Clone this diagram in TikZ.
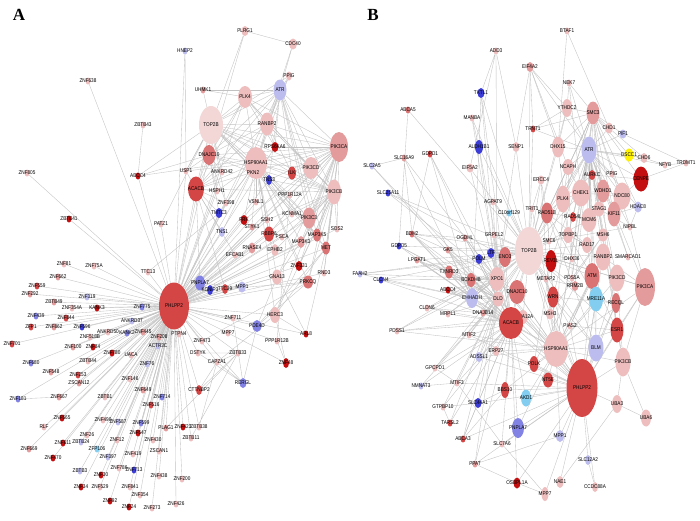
\documentclass[tikz,border=0pt]{standalone}
\usepackage{fontspec}
\newfontfamily\gfont[FakeStretch=0.85]{Liberation Sans}
\newfontfamily\pfont{Liberation Serif}
\usetikzlibrary{shapes.geometric,backgrounds}

\definecolor{pka}{RGB}{243,214,214}
\definecolor{pkb}{RGB}{238,190,190}
\definecolor{pkc}{RGB}{228,155,155}
\definecolor{pkd}{RGB}{218,115,115}
\definecolor{rda}{RGB}{212,70,70}
\definecolor{rdb}{RGB}{195,15,15}
\definecolor{lva}{RGB}{188,188,238}
\definecolor{blb}{RGB}{130,130,228}
\definecolor{blc}{RGB}{60,60,215}
\definecolor{cya}{RGB}{130,205,240}
\definecolor{yel}{RGB}{255,242,0}

\tikzset{wh/.style 2 args={minimum width=#1pt, minimum height=#2pt}}

\begin{document}
\begin{tikzpicture}[x=1pt, y=-1pt]
    \tikzstyle{every node}=[ellipse, inner sep=0pt, draw=none]
    \tikzstyle{every label}=[font=\gfont\fontsize{5.5}{6}\selectfont, text=black]
    \tikzstyle{gene}=[minimum width=5pt, minimum height=7pt]
    \tikzstyle{panel}=[font=\pfont\bfseries\fontsize{17}{17}\selectfont]
    \tikzstyle{edge}=[black!24, line width=0.35pt]

    \useasboundingbox (0,0) rectangle (700,520);

    % panel A
    \node[panel] (pA) at (19,15) {A};
    \node[gene, fill=pkb, label=center:ZNF638] (aZNF638) at (88,81) {};
    \node[gene, fill=pkb, label=center:ZBTB43] (aZBTB43) at (143,125) {};
    \node[gene, fill=pkb, label=center:ZNF805] (aZNF805) at (27,173) {};
    \node[gene, fill=lva, label=center:HNEP2] (aHNEP2) at (185,51) {};
    \node[wh={7}{10}, fill=pkb, label=center:PLRG1] (aPLRG1) at (245,31) {};
    \node[wh={8}{11}, fill=pkb, label=center:CDC40] (aCDC40) at (293,44) {};
    \node[wh={6}{9}, fill=pkb, label=center:PPIG] (aPPIG) at (289,76) {};
    \node[wh={13}{21}, fill=lva, label=center:ATR] (aATR) at (280,90) {};
    \node[gene, fill=pkc, label=center:UHMK1] (aUHMK1) at (203,90) {};
    \node[wh={14}{22}, fill=pkb, label=center:PLK4] (aPLK4) at (245,97) {};
    \node[wh={24}{38}, fill=pka, label=center:TOP2B] (aTOP2B) at (211,125) {};
    \node[wh={14}{23}, fill=pkb, label=center:RANBP2] (aRANBP2) at (267,124) {};
    \node[wh={7}{10}, fill=rdb, label=center:RPS6KA6] (aRPS6KA6) at (275,147) {};
    \node[wh={18}{30}, fill=pkc, label=center:PIK3CA] (aPIK3CA) at (339,147) {};
    \node[wh={13}{20}, fill=pkd, label=center:DNAJC10] (aDNAJC10) at (209,155) {};
    \node[wh={22}{32}, fill=pkb, label=center:HSP90AA1] (aHSP90AA1) at (256,163) {};
    \node[gene, fill=pkb, label=center:PKN2] (aPKN2) at (253,173) {};
    \node[wh={15}{22}, fill=pkb, label=center:PIK3CD] (aPIK3CD) at (311,168) {};
    \node[gene, fill=pkb, label=center:USP1] (aUSP1) at (186,171) {};
    \node[gene, fill=pkb, label=center:ANKRD42] (aANKRD42) at (222,172) {};
    \node[wh={8}{13}, fill=rda, label=center:ILK] (aILK) at (292,173) {};
    \node[gene, fill=rdb, label=center:ABCC4] (aABCC4) at (138,176) {};
    \node[wh={16}{25}, fill=rda, label=center:ACACB] (aACACB) at (196,189) {};
    \node[gene, fill=pkb, label=center:HSPH1] (aHSPH1) at (217,191) {};
    \node[wh={6}{10}, fill=blc, label=center:TNS3] (aTNS3) at (269,180) {};
    \node[wh={14}{25}, fill=pkb, label=center:PIK3CB] (aPIK3CB) at (334,192) {};
    \node[gene, fill=pkb, label=center:PPP1R12A] (aPPP1R12A) at (290,195) {};
    \node[gene, fill=pkb, label=center:ZNF398] (aZNF398) at (226,203) {};
    \node[gene, fill=pkb, label=center:VSNL1] (aVSNL1) at (256,202) {};
    \node[wh={7}{10}, fill=blc, label=center:TMTC3] (aTMTC3) at (219,213) {};
    \node[gene, fill=pkb, label=center:KCNMA1] (aKCNMA1) at (292,214) {};
    \node[wh={13}{21}, fill=pkc, label=center:PIK3C3] (aPIK3C3) at (309,218) {};
    \node[wh={7}{10}, fill=rdb, label=center:FRK] (aFRK) at (244,220) {};
    \node[gene, fill=pkc, label=center:STYK1] (aSTYK1) at (252,227) {};
    \node[gene, fill=pkb, label=center:SSH2] (aSSH2) at (267,220) {};
    \node[wh={6}{10}, fill=lva, label=center:TNS1] (aTNS1) at (222,232) {};
    \node[wh={10}{15}, fill=rda, label=center:RBBP6] (aRBBP6) at (269,234) {};
    \node[gene, fill=pkb, label=center:PSCA] (aPSCA) at (282,237) {};
    \node[wh={7}{12}, fill=pkc, label=center:MAP3K3] (aMAP3K3) at (301,242) {};
    \node[wh={8}{13}, fill=pkd, label=center:MAP3K5] (aMAP3K5) at (317,235) {};
    \node[gene, fill=pkb, label=center:SOS2] (aSOS2) at (337,229) {};
    \node[wh={8}{13}, fill=pkd, label=center:MET] (aMET) at (326,248) {};
    \node[wh={7}{12}, fill=pkb, label=center:EPHB2] (aEPHB2) at (275,250) {};
    \node[wh={7}{11}, fill=pkc, label=center:RNASE4] (aRNASE4) at (252,248) {};
    \node[gene, fill=pkb, label=center:EFCAB1] (aEFCAB1) at (235,255) {};
    \node[wh={7}{10}, fill=rdb, label=center:ZNF331] (aZNF331) at (299,266) {};
    \node[gene, fill=pkb, label=center:RND3] (aRND3) at (324,273) {};
    \node[wh={10}{15}, fill=pkb, label=center:GNA13] (aGNA13) at (277,277) {};
    \node[wh={10}{13}, fill=pkd, label=center:PRKCQ] (aPRKCQ) at (308,282) {};
    \node[wh={10}{15}, fill=blb, label=center:PNPLA7] (aPNPLA7) at (200,283) {};
    \node[wh={6}{10}, fill=blc, label=center:KCNIP3] (aKCNIP3) at (210,290) {};
    \node[wh={6}{10}, fill=rda, label=center:TTC39] (aTTC39) at (225,289) {};
    \node[wh={8}{11}, fill=lva, label=center:MPP1] (aMPP1) at (242,287) {};
    \node[wh={30}{47}, fill=rda, label=center:PHLPP2] (aPHLPP2) at (174,306) {};
    \node[wh={10}{16}, fill=pkb, label=center:HERC3] (aHERC3) at (275,315) {};
    \node[gene, fill=pkb, label=center:ZNF711] (aZNF711) at (233,318) {};
    \node[wh={9}{12}, fill=blb, label=center:PDE4D] (aPDE4D) at (257,326) {};
    \node[gene, fill=rdb, label=center:ARL8] (aARL8) at (306,334) {};
    \node[gene, fill=pkb, label=center:MPP7] (aMPP7) at (228,333) {};
    \node[gene, fill=pkb, label=center:PPP1R12B] (aPPP1R12B) at (277,341) {};
    \node[gene, fill=pkb, label=center:ZNF473] (aZNF473) at (202,341) {};
    \node[gene, fill=pkb, label=center:PTPN4] (aPTPN4) at (179,334) {};
    \node[gene, fill=pkb, label=center:DSTYK] (aDSTYK) at (198,353) {};
    \node[gene, fill=pkb, label=center:ZBTB33] (aZBTB33) at (238,353) {};
    \node[gene, fill=pkb, label=center:CAPZA1] (aCAPZA1) at (217,362) {};
    \node[wh={6}{10}, fill=rdb, label=center:ZNF48] (aZNF48) at (286,363) {};
    \node[wh={7}{10}, fill=blb, label=center:RERGL] (aRERGL) at (243,383) {};
    \node[wh={6}{10}, fill=rda, label=center:CTTNBP2] (aCTTNBP2) at (199,390) {};
    \node[gene, fill=pkc, label=center:PLAG1] (aPLAG1) at (166,428) {};
    \node[gene, fill=rdb, label=center:ZNF423] (aZNF423) at (183,427) {};
    \node[gene, fill=pkb, label=center:ZBTB38] (aZBTB38) at (199,427) {};
    \node[gene, fill=pkb, label=center:ZBTB11] (aZBTB11) at (191,438) {};
    \node[gene, fill=pkb, label=center:ZNF200] (aZNF200) at (182,479) {};
    \node[gene, fill=pkb, label=center:ZNF426] (aZNF426) at (176,504) {};
    \node[gene, fill=rdb, label=center:ZBTB41] (aZBTB41) at (69,219) {};
    \node[gene, fill=pkb, label=center:PATZ1] (aPATZ1) at (161,224) {};
    \node[gene, fill=pkb, label=center:ZNF81] (aZNF81) at (64,264) {};
    \node[gene, fill=pkb, label=center:ZNF75A] (aZNF75A) at (94,266) {};
    \node[gene, fill=pkb, label=center:TTC13] (aTTC13) at (148,272) {};
    \node[gene, fill=pkc, label=center:ZNF662] (aZNF662) at (58,277) {};
    \node[gene, fill=rda, label=center:ZNF559] (aZNF559) at (37,286) {};
    \node[gene, fill=pkc, label=center:ZNF292] (aZNF292) at (30,294) {};
    \node[gene, fill=lva, label=center:ZNF319] (aZNF319) at (87,297) {};
    \node[gene, fill=pkc, label=center:ZBTB49] (aZBTB49) at (54,302) {};
    \node[gene, fill=pkb, label=center:ZNF354A] (aZNF354A) at (72,308) {};
    \node[gene, fill=rdb, label=center:KANK3] (aKANK3) at (97,308) {};
    \node[gene, fill=blb, label=center:ZNF775] (aZNF775) at (142,307) {};
    \node[gene, fill=blb, label=center:ZNF439] (aZNF439) at (36,316) {};
    \node[gene, fill=rda, label=center:ZNF844] (aZNF844) at (66,318) {};
    \node[gene, fill=rda, label=center:ZFP1] (aZFP1) at (31,327) {};
    \node[gene, fill=pkc, label=center:ZNF862] (aZNF862) at (54,327) {};
    \node[gene, fill=blc, label=center:ZNF596] (aZNF596) at (82,327) {};
    \node[gene, fill=lva, label=center:ANKRD37] (aANKRD37) at (132,321) {};
    \node[gene, fill=pkb, label=center:ANKRD50] (aANKRD50) at (108,332) {};
    \node[gene, fill=blb, label=center:KANK2] (aKANK2) at (127,333) {};
    \node[gene, fill=pkc, label=center:ZNF445] (aZNF445) at (143,332) {};
    \node[gene, fill=pkb, label=center:ZNF518B] (aZNF518B) at (90,337) {};
    \node[gene, fill=pkc, label=center:ZNF208] (aZNF208) at (159,337) {};
    \node[gene, fill=rda, label=center:ZNF701] (aZNF701) at (12,344) {};
    \node[gene, fill=pkc, label=center:ZNF100] (aZNF100) at (73,347) {};
    \node[gene, fill=rdb, label=center:ZNF84] (aZNF84) at (93,347) {};
    \node[gene, fill=rdb, label=center:ZNF780] (aZNF780) at (112,353) {};
    \node[gene, fill=pkb, label=center:UACA] (aUACA) at (131,355) {};
    \node[gene, fill=lva, label=center:ACTR3C] (aACTR3C) at (158,346) {};
    \node[gene, fill=blb, label=center:ZNF680] (aZNF680) at (31,363) {};
    \node[gene, fill=pkb, label=center:ZBTB44] (aZBTB44) at (88,361) {};
    \node[gene, fill=lva, label=center:ZNF76] (aZNF76) at (147,364) {};
    \node[gene, fill=pkc, label=center:ZNF548] (aZNF548) at (51,372) {};
    \node[gene, fill=rda, label=center:ZNF253] (aZNF253) at (78,375) {};
    \node[gene, fill=pkc, label=center:ZSCAN12] (aZSCAN12) at (79,383) {};
    \node[gene, fill=pkb, label=center:ZNF146] (aZNF146) at (130,379) {};
    \node[gene, fill=pkc, label=center:ZNF649] (aZNF649) at (143,390) {};
    \node[gene, fill=blb, label=center:ZNF181] (aZNF181) at (18,399) {};
    \node[gene, fill=pkc, label=center:ZNF667] (aZNF667) at (59,397) {};
    \node[gene, fill=pkb, label=center:ZBTB1] (aZBTB1) at (105,397) {};
    \node[gene, fill=blb, label=center:ZNF714] (aZNF714) at (162,397) {};
    \node[gene, fill=rda, label=center:ZNF516] (aZNF516) at (151,405) {};
    \node[gene, fill=rdb, label=center:ZNF565] (aZNF565) at (62,418) {};
    \node[gene, fill=pkb, label=center:RLF] (aRLF) at (44,427) {};
    \node[gene, fill=pkb, label=center:ZNF490] (aZNF490) at (103,420) {};
    \node[gene, fill=lva, label=center:ZNF587] (aZNF587) at (118,422) {};
    \node[gene, fill=blb, label=center:ZNF599] (aZNF599) at (141,423) {};
    \node[gene, fill=pkb, label=center:ZNF26] (aZNF26) at (87,435) {};
    \node[gene, fill=rdb, label=center:ZNF611] (aZNF611) at (63,443) {};
    \node[gene, fill=lva, label=center:ZBTB24] (aZBTB24) at (81,442) {};
    \node[gene, fill=rdb, label=center:ZNF547] (aZNF547) at (138,433) {};
    \node[gene, fill=pkb, label=center:ZNF430] (aZNF430) at (153,440) {};
    \node[gene, fill=pkc, label=center:ZNF669] (aZNF669) at (29,449) {};
    \node[gene, fill=cya, label=center:ZFP106] (aZFP106) at (97,449) {};
    \node[gene, fill=pkb, label=center:ZNF12] (aZNF12) at (117,440) {};
    \node[gene, fill=pkb, label=center:ZNF419] (aZNF419) at (133,454) {};
    \node[gene, fill=pkb, label=center:ZSCAN1] (aZSCAN1) at (159,451) {};
    \node[gene, fill=lva, label=center:ZNF397] (aZNF397) at (108,457) {};
    \node[gene, fill=rdb, label=center:ZNF470] (aZNF470) at (53,458) {};
    \node[gene, fill=pkb, label=center:ZNF786] (aZNF786) at (119,468) {};
    \node[gene, fill=blc, label=center:ZNF713] (aZNF713) at (134,470) {};
    \node[gene, fill=lva, label=center:ZBTB3] (aZBTB3) at (80,471) {};
    \node[gene, fill=pkb, label=center:ZNF438] (aZNF438) at (159,476) {};
    \node[gene, fill=rdb, label=center:ZNF30] (aZNF30) at (101,475) {};
    \node[gene, fill=rdb, label=center:ZNF34] (aZNF34) at (81,487) {};
    \node[gene, fill=pkb, label=center:ZNF529] (aZNF529) at (100,487) {};
    \node[gene, fill=pkb, label=center:ZNF841] (aZNF841) at (130,487) {};
    \node[gene, fill=pkb, label=center:ZNF354] (aZNF354) at (140,495) {};
    \node[gene, fill=rdb, label=center:ZNF92] (aZNF92) at (110,501) {};
    \node[gene, fill=rdb, label=center:ZNF24] (aZNF24) at (129,507) {};
    \node[gene, fill=pkb, label=center:ZNF273] (aZNF273) at (152,508) {};

    % panel B
    \node[panel] (pB) at (373,15) {B};
    \node[gene, fill=pkb, label=center:ADD3] (bADD3) at (496,51) {};
    \node[wh={7}{10}, fill=blc, label=center:TKTL1] (bTKTL1) at (481,93) {};
    \node[gene, fill=pkd, label=center:ABCA5] (bABCA5) at (408,110) {};
    \node[gene, fill=pkb, label=center:MANBA] (bMANBA) at (472,118) {};
    \node[wh={8}{14}, fill=blc, label=center:ALDH1B1] (bALDH1B1) at (479,147) {};
    \node[wh={7}{10}, fill=pkb, label=center:SENP1] (bSENP1) at (516,147) {};
    \node[gene, fill=rda, label=center:GDPD1] (bGDPD1) at (430,154) {};
    \node[gene, fill=pkc, label=center:SLC16A9] (bSLC16A9) at (404,158) {};
    \node[wh={7}{9}, fill=pkb, label=center:EIF5A2] (bEIF5A2) at (470,168) {};
    \node[gene, fill=lva, label=center:SLC2A5] (bSLC2A5) at (372,166) {};
    \node[gene, fill=pkb, label=center:BTAF1] (bBTAF1) at (567,31) {};
    \node[wh={7}{10}, fill=pkc, label=center:EIF4A2] (bEIF4A2) at (530,67) {};
    \node[gene, fill=pkb, label=center:NEK7] (bNEK7) at (569,83) {};
    \node[wh={10}{18}, fill=pkb, label=center:YTHDC2] (bYTHDC2) at (567,108) {};
    \node[wh={13}{23}, fill=pkc, label=center:SMC3] (bSMC3) at (593,113) {};
    \node[gene, fill=rda, label=center:TRNT1] (bTRNT1) at (533,129) {};
    \node[wh={8}{11}, fill=pkb, label=center:CHD1] (bCHD1) at (609,128) {};
    \node[wh={7}{9}, fill=lva, label=center:PIF1] (bPIF1) at (623,134) {};
    \node[wh={12}{21}, fill=pkb, label=center:DHX15] (bDHX15) at (558,147) {};
    \node[wh={15}{27}, fill=lva, label=center:ATR] (bATR) at (589,150) {};
    \node[wh={9}{13}, fill=yel, label=center:DSCC1] (bDSCC1) at (629,155) {};
    \node[wh={7}{10}, fill=pkb, label=center:CHD6] (bCHD6) at (644,158) {};
    \node[gene, fill=pkb, label=center:NFYB] (bNFYB) at (665,165) {};
    \node[gene, fill=pkb, label=center:TRDMT1] (bTRDMT1) at (686,163) {};
    \node[wh={11}{16}, fill=pkb, label=center:NCAPH] (bNCAPH) at (568,167) {};
    \node[wh={7}{10}, fill=rda, label=center:AURKC] (bAURKC) at (592,175) {};
    \node[gene, fill=pkb, label=center:PPIG] (bPPIG) at (612,174) {};
    \node[wh={15}{25}, fill=rdb, label=center:CENPE] (bCENPE) at (641,179) {};
    \node[wh={7}{9}, fill=pkb, label=center:ERCC4] (bERCC4) at (541,180) {};
    \node[wh={18}{27}, fill=pkb, label=center:CHEK1] (bCHEK1) at (581,193) {};
    \node[wh={13}{23}, fill=pkc, label=center:WDHD1] (bWDHD1) at (603,191) {};
    \node[wh={17}{27}, fill=pkb, label=center:NDC80] (bNDC80) at (622,196) {};
    \node[wh={8}{11}, fill=lva, label=center:HDAC8] (bHDAC8) at (638,207) {};
    \node[wh={14}{27}, fill=pkb, label=center:PLK4] (bPLK4) at (563,199) {};
    \node[gene, fill=pkb, label=center:TRIT1] (bTRIT1) at (532,209) {};
    \node[wh={12}{21}, fill=pkd, label=center:RAD51B] (bRAD51B) at (547,213) {};
    \node[wh={6}{10}, fill=rda, label=center:RAD54L] (bRAD54L) at (573,217) {};
    \node[wh={15}{24}, fill=pkb, label=center:MCM6] (bMCM6) at (589,220) {};
    \node[wh={11}{15}, fill=pkb, label=center:STAG1] (bSTAG1) at (599,209) {};
    \node[wh={13}{25}, fill=pkc, label=center:KIF11] (bKIF11) at (614,214) {};
    \node[gene, fill=pkb, label=center:NIPBL] (bNIPBL) at (630,227) {};
    \node[wh={10}{13}, fill=pkb, label=center:MSH6] (bMSH6) at (603,235) {};
    \node[wh={10}{16}, fill=pkb, label=center:TOPBP1] (bTOPBP1) at (568,235) {};
    \node[wh={10}{16}, fill=pkb, label=center:RAD17] (bRAD17) at (587,245) {};
    \node[wh={28}{48}, fill=pka, label=center:TOP2B] (bTOP2B) at (529,251) {};
    \node[gene, fill=pkb, label=center:SMC6] (bSMC6) at (549,241) {};
    \node[wh={11}{22}, fill=rdb, label=center:REV3L] (bREV3L) at (551,261) {};
    \node[gene, fill=pkb, label=center:DHX36] (bDHX36) at (572,259) {};
    \node[wh={15}{27}, fill=pkb, label=center:RANBP2] (bRANBP2) at (603,257) {};
    \node[gene, fill=pkb, label=center:SMARCAD1] (bSMARCAD1) at (628,257) {};
    \node[wh={15}{26}, fill=pkd, label=center:ATM] (bATM) at (592,276) {};
    \node[wh={15}{27}, fill=pkb, label=center:PIK3CD] (bPIK3CD) at (617,278) {};
    \node[wh={20}{38}, fill=pkc, label=center:PIK3CA] (bPIK3CA) at (645,287) {};
    \node[gene, fill=pkb, label=center:METAP2] (bMETAP2) at (546,279) {};
    \node[gene, fill=pkb, label=center:PDS5A] (bPDS5A) at (572,278) {};
    \node[wh={7}{10}, fill=pkc, label=center:RRM2B] (bRRM2B) at (575,286) {};
    \node[wh={14}{25}, fill=cya, label=center:MRE11A] (bMRE11A) at (596,299) {};
    \node[wh={9}{20}, fill=pkd, label=center:RECQL] (bRECQL) at (616,303) {};
    \node[wh={11}{21}, fill=rda, label=center:WRN] (bWRN) at (553,297) {};
    \node[wh={8}{11}, fill=pkb, label=center:MSH3] (bMSH3) at (550,314) {};
    \node[gene, fill=pkb, label=center:PIAS2] (bPIAS2) at (570,326) {};
    \node[wh={13}{25}, fill=rda, label=center:ESR1] (bESR1) at (617,330) {};
    \node[wh={16}{24}, fill=pkd, label=center:DNAJC10] (bDNAJC10) at (517,292) {};
    \node[wh={10}{14}, fill=pkb, label=center:HSPA12A] (bHSPA12A) at (523,317) {};
    \node[wh={15}{27}, fill=lva, label=center:BLM] (bBLM) at (596,348) {};
    \node[wh={24}{36}, fill=pkb, label=center:HSP90AA1] (bHSP90AA1) at (556,349) {};
    \node[wh={15}{29}, fill=pkb, label=center:PIK3CB] (bPIK3CB) at (623,362) {};
    \node[wh={9}{16}, fill=rda, label=center:POLK] (bPOLK) at (534,364) {};
    \node[wh={10}{15}, fill=rda, label=center:NT5E] (bNT5E) at (548,380) {};
    \node[wh={31}{58}, fill=rda, label=center:PHLPP2] (bPHLPP2) at (582,388) {};
    \node[wh={10}{17}, fill=cya, label=center:AKD1] (bAKD1) at (526,398) {};
    \node[wh={10}{18}, fill=pkb, label=center:UBA3] (bUBA3) at (617,404) {};
    \node[wh={10}{17}, fill=pkb, label=center:UBA6] (bUBA6) at (646,418) {};
    \node[wh={12}{20}, fill=blb, label=center:PNPLA7] (bPNPLA7) at (518,428) {};
    \node[wh={8}{12}, fill=lva, label=center:MPP1] (bMPP1) at (560,436) {};
    \node[wh={6}{10}, fill=lva, label=center:SLC12A2] (bSLC12A2) at (588,460) {};
    \node[wh={7}{12}, fill=pkb, label=center:NAE1] (bNAE1) at (560,482) {};
    \node[wh={6}{10}, fill=pkb, label=center:CCDC88A] (bCCDC88A) at (595,487) {};
    \node[wh={7}{14}, fill=pkb, label=center:MPP7] (bMPP7) at (545,494) {};
    \node[wh={7}{11}, fill=rdb, label=center:OSBPL1A] (bOSBPL1A) at (517,483) {};
    \node[wh={7}{10}, fill=pkb, label=center:ERP27] (bERP27) at (496,351) {};
    \node[wh={7}{10}, fill=lva, label=center:ADSSL1] (bADSSL1) at (479,357) {};
    \node[gene, fill=pkb, label=center:GPCPD1] (bGPCPD1) at (435,368) {};
    \node[gene, fill=lva, label=center:NMNAT3] (bNMNAT3) at (421,386) {};
    \node[gene, fill=pkb, label=center:MTIF3] (bMTIF3) at (457,383) {};
    \node[wh={8}{16}, fill=rda, label=center:BBS10] (bBBS10) at (505,390) {};
    \node[gene, fill=pkb, label=center:GTPBP10] (bGTPBP10) at (443,407) {};
    \node[wh={7}{10}, fill=blc, label=center:SLC44A1] (bSLC44A1) at (478,403) {};
    \node[gene, fill=rda, label=center:TARSL2] (bTARSL2) at (450,423) {};
    \node[gene, fill=rda, label=center:ABCA3] (bABCA3) at (463,439) {};
    \node[gene, fill=pkb, label=center:SLC7A6] (bSLC7A6) at (502,444) {};
    \node[gene, fill=pkc, label=center:PPAT] (bPPAT) at (475,464) {};
    \node[gene, fill=blc, label=center:SLC25A11] (bSLC25A11) at (388,193) {};
    \node[gene, fill=pkb, label=center:AGPAT9] (bAGPAT9) at (493,202) {};
    \node[gene, fill=cya, label=center:C10orf129] (bC10orf129) at (509,213) {};
    \node[gene, fill=pkd, label=center:BDH2] (bBDH2) at (412,234) {};
    \node[gene, fill=pkc, label=center:OGDHL] (bOGDHL) at (465,238) {};
    \node[gene, fill=pkb, label=center:GRPEL2] (bGRPEL2) at (494,235) {};
    \node[gene, fill=blc, label=center:GDPD5] (bGDPD5) at (399,246) {};
    \node[gene, fill=pkc, label=center:GK5] (bGK5) at (448,250) {};
    \node[wh={7}{10}, fill=blc, label=center:POLM] (bPOLM) at (479,259) {};
    \node[wh={7}{10}, fill=blc, label=center:LTF] (bLTF) at (491,253) {};
    \node[wh={12}{20}, fill=pkd, label=center:ENO3] (bENO3) at (505,257) {};
    \node[gene, fill=pkc, label=center:LPGAT1] (bLPGAT1) at (417,260) {};
    \node[gene, fill=lva, label=center:FAAH2] (bFAAH2) at (360,274) {};
    \node[gene, fill=blc, label=center:CLCN4] (bCLCN4) at (381,280) {};
    \node[wh={8}{13}, fill=pkd, label=center:TXNRD3] (bTXNRD3) at (449,272) {};
    \node[wh={9}{14}, fill=pkd, label=center:BCKDHB] (bBCKDHB) at (471,280) {};
    \node[wh={15}{24}, fill=pkb, label=center:XPO1] (bXPO1) at (497,279) {};
    \node[gene, fill=rdb, label=center:ABCC4] (bABCC4) at (448,290) {};
    \node[wh={12}{20}, fill=lva, label=center:EHHADH] (bEHHADH) at (472,298) {};
    \node[wh={11}{15}, fill=pkb, label=center:DLD] (bDLD) at (498,299) {};
    \node[gene, fill=pkb, label=center:CLDN6] (bCLDN6) at (427,308) {};
    \node[gene, fill=pkb, label=center:MRPL1] (bMRPL1) at (448,314) {};
    \node[gene, fill=pkc, label=center:DNAJB14] (bDNAJB14) at (483,313) {};
    \node[wh={24}{32}, fill=rda, label=center:ACACB] (bACACB) at (511,323) {};
    \node[gene, fill=pkb, label=center:PDSS1] (bPDSS1) at (397,331) {};
    \node[gene, fill=pkb, label=center:MTIF2] (bMTIF2) at (469,335) {};

    \begin{pgfonlayer}{background}
    \fill[white] (0,0) rectangle (700,520);

    % edges of panel A
    \draw[edge] (aPHLPP2) edge (aZNF638) edge (aZNF805) edge (aZBTB41) edge (aPATZ1)
        edge (aZNF81) edge (aZNF75A) edge (aTTC13) edge (aZNF662) edge (aZNF559)
        edge (aZNF292) edge (aZNF319) edge (aZBTB49) edge (aZNF354A) edge (aKANK3)
        edge (aZNF775) edge (aZNF439) edge (aZNF844) edge (aZFP1) edge (aZNF862)
        edge (aZNF596) edge (aANKRD37) edge (aANKRD50) edge (aKANK2) edge (aZNF445)
        edge (aZNF518B) edge (aZNF208) edge (aZNF701) edge (aZNF100) edge (aZNF84)
        edge (aZNF780) edge (aUACA) edge (aACTR3C) edge (aZNF680) edge (aZBTB44)
        edge (aZNF76) edge (aZNF548) edge (aZNF253) edge (aZSCAN12) edge (aZNF146)
        edge (aZNF649) edge (aZNF181) edge (aZNF667) edge (aZBTB1) edge (aZNF714)
        edge (aZNF516) edge (aZNF565) edge (aRLF) edge (aZNF490) edge (aZNF587)
        edge (aZNF599) edge (aZNF26) edge (aZBTB24) edge (aZNF611) edge (aZNF547)
        edge (aZNF430) edge (aZNF669) edge (aZFP106) edge (aZNF12) edge (aZNF419)
        edge (aZSCAN1) edge (aZNF397) edge (aZNF470) edge (aZNF786) edge (aZNF713)
        edge (aZBTB3) edge (aZNF438) edge (aZNF30) edge (aZNF34) edge (aZNF529)
        edge (aZNF841) edge (aZNF354) edge (aZNF92) edge (aZNF24) edge (aZNF273)
        edge (aPLAG1) edge (aZNF423) edge (aZBTB38) edge (aZBTB11) edge (aZNF200)
        edge (aZNF426) edge (aPTPN4) edge (aZNF473) edge (aDSTYK) edge (aZBTB33)
        edge (aCAPZA1) edge (aCTTNBP2) edge (aMPP7) edge (aZNF711) edge (aPDE4D)
        edge (aHERC3) edge (aPPP1R12B) edge (aRERGL) edge (aARL8) edge (aHNEP2)
        edge (aABCC4) edge (aUSP1) edge (aACACB) edge (aTOP2B) edge (aDNAJC10)
        edge (aHSPH1) edge (aZNF398) edge (aTMTC3) edge (aTNS1) edge (aPNPLA7)
        edge (aKCNIP3) edge (aTTC39) edge (aMPP1) edge (aEFCAB1) edge (aRNASE4)
        edge (aFRK) edge (aSTYK1) edge (aVSNL1) edge (aRBBP6) edge (aEPHB2)
        edge (aGNA13) edge (aPIK3CA) edge (aPIK3CB) edge (aPIK3CD) edge (aPIK3C3)
        edge (aMET) edge (aMAP3K5) edge (aMAP3K3) edge (aPRKCQ) edge (aZNF331)
        edge (aRND3) edge (aSOS2) edge (aHSP90AA1) edge (aILK) edge (aPLK4)
        edge (aATR) edge (aRANBP2) edge (aKCNMA1) edge (aPPP1R12A) edge (aTNS3)
        edge (aSSH2) edge (aPSCA) edge (aANKRD42) edge (aRPS6KA6);
    \draw[edge] (aTOP2B) edge (aATR) edge (aPLK4) edge (aRANBP2) edge (aHSP90AA1)
        edge (aPIK3CA) edge (aDNAJC10) edge (aUHMK1) edge (aPIK3CD) edge (aPIK3CB)
        edge (aPIK3C3) edge (aILK) edge (aRPS6KA6) edge (aUSP1) edge (aACACB)
        edge (aANKRD42) edge (aMET) edge (aMAP3K5) edge (aHSPH1) edge (aZNF398)
        edge (aTNS3) edge (aPPIG) edge (aABCC4) edge (aPLRG1);
    \draw[edge] (aATR) edge (aUHMK1) edge (aPPIG) edge (aCDC40) edge (aPLK4)
        edge (aRANBP2) edge (aPIK3CA) edge (aHSP90AA1) edge (aPIK3CD) edge (aPIK3CB)
        edge (aPIK3C3) edge (aRPS6KA6) edge (aILK) edge (aDNAJC10) edge (aACACB)
        edge (aMET) edge (aMAP3K5) edge (aPKN2) edge (aTNS3);
    \draw[edge] (aPIK3CA) edge (aPIK3CB) edge (aPIK3CD) edge (aPIK3C3) edge (aSOS2)
        edge (aMET) edge (aMAP3K5) edge (aMAP3K3) edge (aRANBP2) edge (aHSP90AA1)
        edge (aILK) edge (aPLK4) edge (aDNAJC10) edge (aRPS6KA6) edge (aPRKCQ)
        edge (aKCNMA1) edge (aPPP1R12A) edge (aRND3) edge (aGNA13) edge (aTNS3)
        edge (aACACB) edge (aHERC3) edge (aZNF331) edge (aFRK) edge (aRBBP6);
    \draw[edge] (aPIK3CB) edge (aPIK3CD) edge (aPIK3C3) edge (aSOS2) edge (aMET)
        edge (aMAP3K5) edge (aMAP3K3) edge (aHSP90AA1) edge (aILK) edge (aRANBP2)
        edge (aPLK4) edge (aPRKCQ) edge (aRND3) edge (aGNA13) edge (aZNF331)
        edge (aEPHB2) edge (aPSCA) edge (aKCNMA1) edge (aTNS3) edge (aDNAJC10)
        edge (aACACB) edge (aSSH2);
    \draw[edge] (aHSP90AA1) edge (aPLK4) edge (aRANBP2) edge (aDNAJC10) edge (aILK)
        edge (aPIK3CD) edge (aPIK3C3) edge (aMET) edge (aMAP3K3) edge (aMAP3K5)
        edge (aPRKCQ) edge (aSSH2) edge (aVSNL1) edge (aSTYK1) edge (aFRK)
        edge (aRBBP6) edge (aEPHB2) edge (aGNA13) edge (aZNF398) edge (aHSPH1)
        edge (aACACB) edge (aTNS1) edge (aTMTC3) edge (aUSP1) edge (aPPIG)
        edge (aPPP1R12A) edge (aKCNMA1) edge (aZNF331) edge (aHERC3);
    \draw[edge] (aPLK4) -- (aRANBP2) -- (aDNAJC10) -- (aPLK4) -- (aACACB) -- (aRANBP2) -- (aILK);
    \draw[edge] (aPLK4) -- (aRPS6KA6) -- (aRANBP2) -- (aPIK3CD) -- (aPLK4) -- (aUHMK1);
    \draw[edge] (aPPIG) -- (aRANBP2) -- (aCDC40) -- (aPLRG1) -- (aDNAJC10) -- (aUSP1);
    \draw[edge] (aDNAJC10) -- (aACACB) -- (aHSPH1) -- (aDNAJC10) -- (aANKRD42) -- (aACACB);
    \draw[edge] (aDNAJC10) -- (aZNF398) -- (aACACB) -- (aTMTC3) -- (aDNAJC10) -- (aPKN2);
    \draw[edge] (aACACB) -- (aTNS1) (aACACB) -- (aPNPLA7) -- (aKCNIP3) -- (aMPP1) -- (aPNPLA7);
    \draw[edge] (aACACB) -- (aEFCAB1) (aACACB) -- (aTTC39) (aACACB) -- (aUSP1) -- (aTOP2B);
    \draw[edge] (aHERC3) -- (aPIK3CB) (aHERC3) -- (aMET) -- (aARL8) -- (aHERC3) -- (aZNF48) -- (aMPP7);
    \draw[edge] (aARL8) -- (aGNA13) -- (aPDE4D) -- (aRERGL) -- (aZNF711) (aPDE4D) -- (aMET);
    \draw[edge] (aPPP1R12B) -- (aPPP1R12A) (aPPP1R12B) -- (aZNF48) (aPDE4D) -- (aPRKCQ);
    \draw[edge] (aCTTNBP2) -- (aZBTB33) -- (aCAPZA1) -- (aCTTNBP2) (aDSTYK) -- (aZBTB33);
    \draw[edge] (aCAPZA1) -- (aHERC3) (aPLAG1) -- (aZBTB33) (aZBTB38) -- (aCAPZA1) (aZBTB11) -- (aZBTB33);
    \draw[edge] (aDSTYK) -- (aRERGL) -- (aCAPZA1) (aZNF473) -- (aPRKCQ);
    \draw[edge] (aZBTB43) -- (aABCC4) -- (aDNAJC10) (aABCC4) -- (aPIK3CA);
    \draw[edge] (aPATZ1) -- (aTOP2B) (aTTC13) -- (aTMTC3) (aHNEP2) -- (aUSP1);
    \draw[edge] (aZNF181) -- (aZNF667) (aMPP1) -- (aGNA13) (aTTC39) -- (aPRKCQ);

    % edges of panel B
    \draw[edge] (bTOP2B) edge (bATR) edge (bSMC3) edge (bYTHDC2) edge (bDHX15)
        edge (bNCAPH) edge (bCHEK1) edge (bPLK4) edge (bEIF4A2) edge (bTRNT1)
        edge (bSENP1) edge (bEIF5A2) edge (bABCA5) edge (bMANBA) edge (bALDH1B1)
        edge (bTKTL1) edge (bERCC4) edge (bTRIT1) edge (bRAD51B) edge (bSMC6)
        edge (bREV3L) edge (bTOPBP1) edge (bMCM6) edge (bRAD17) edge (bATM)
        edge (bRANBP2) edge (bWRN) edge (bMSH3) edge (bMETAP2) edge (bXPO1)
        edge (bDLD) edge (bEHHADH) edge (bACACB) edge (bDNAJC10) edge (bHSP90AA1)
        edge (bPHLPP2) edge (bBDH2) edge (bGDPD5) edge (bLPGAT1) edge (bFAAH2)
        edge (bCLCN4) edge (bSLC25A11) edge (bAGPAT9) edge (bC10orf129) edge (bOGDHL)
        edge (bGRPEL2) edge (bGK5) edge (bTXNRD3) edge (bPOLM) edge (bLTF)
        edge (bENO3) edge (bCLDN6) edge (bPDSS1) edge (bMRPL1) edge (bMTIF2)
        edge (bGPCPD1) edge (bADSSL1) edge (bPIK3CA) edge (bPIK3CD) edge (bBLM)
        edge (bESR1) edge (bPIAS2) edge (bHSPA12A) edge (bRRM2B) edge (bDHX36);
    \draw[edge] (bATR) edge (bSMC3) edge (bYTHDC2) edge (bDHX15) edge (bNCAPH)
        edge (bCHEK1) edge (bPLK4) edge (bWDHD1) edge (bNDC80) edge (bAURKC)
        edge (bPPIG) edge (bCENPE) edge (bCHD1) edge (bPIF1) edge (bDSCC1)
        edge (bCHD6) edge (bNEK7) edge (bEIF4A2) edge (bMCM6) edge (bSTAG1)
        edge (bKIF11) edge (bRAD51B) edge (bRAD54L) edge (bTOPBP1) edge (bRAD17)
        edge (bMSH6) edge (bATM) edge (bRANBP2) edge (bPIK3CD) edge (bPIK3CA)
        edge (bMRE11A) edge (bRECQL) edge (bWRN) edge (bBLM) edge (bESR1)
        edge (bHSP90AA1) edge (bPIK3CB) edge (bSMARCAD1) edge (bNIPBL) edge (bHDAC8)
        edge (bREV3L) edge (bRRM2B) edge (bPDS5A) edge (bNFYB) edge (bTRNT1);
    \draw[edge] (bSMC3) edge (bYTHDC2) edge (bNEK7) edge (bCHD1) edge (bPIF1)
        edge (bDSCC1) edge (bCHEK1) edge (bWDHD1) edge (bNDC80) edge (bSTAG1)
        edge (bNIPBL) edge (bPDS5A) edge (bMCM6) edge (bPLK4) edge (bNCAPH)
        edge (bRAD51B) edge (bKIF11) edge (bHDAC8) edge (bSMC6) edge (bESR1)
        edge (bDHX15) edge (bCENPE) edge (bTRNT1);
    \draw[edge] (bPHLPP2) edge (bHSP90AA1) edge (bBLM) edge (bPIK3CB) edge (bPOLK)
        edge (bNT5E) edge (bAKD1) edge (bUBA3) edge (bMPP1) edge (bSLC12A2)
        edge (bNAE1) edge (bCCDC88A) edge (bMPP7) edge (bOSBPL1A) edge (bPNPLA7)
        edge (bBBS10) edge (bSLC44A1) edge (bSLC7A6) edge (bACACB) edge (bDNAJC10)
        edge (bPIK3CA) edge (bPIK3CD) edge (bATM) edge (bESR1) edge (bXPO1)
        edge (bEHHADH) edge (bDLD) edge (bMTIF2) edge (bADSSL1) edge (bERP27)
        edge (bABCA3) edge (bPPAT) edge (bWRN) edge (bPIAS2) edge (bMRE11A)
        edge (bRECQL) edge (bHSPA12A) edge (bMSH3) edge (bRANBP2) edge (bMTIF3);
    \draw[edge] (bHSP90AA1) edge (bPOLK) edge (bNT5E) edge (bAKD1) edge (bBLM)
        edge (bPIK3CB) edge (bESR1) edge (bPIK3CA) edge (bPIK3CD) edge (bATM)
        edge (bMRE11A) edge (bWRN) edge (bPIAS2) edge (bMSH3) edge (bACACB)
        edge (bDNAJC10) edge (bDLD) edge (bXPO1) edge (bERP27) edge (bBBS10)
        edge (bHSPA12A) edge (bPNPLA7) edge (bCHEK1) edge (bPLK4) edge (bRANBP2)
        edge (bADSSL1) edge (bMTIF2) edge (bABCC4) edge (bPDSS1) edge (bMPP1)
        edge (bREV3L) edge (bMETAP2);
    \draw[edge] (bXPO1) edge (bACACB) edge (bDLD) edge (bEHHADH) edge (bENO3)
        edge (bBCKDHB) edge (bTXNRD3) edge (bABCC4) edge (bGK5) edge (bOGDHL)
        edge (bGRPEL2) edge (bPOLM) edge (bLTF) edge (bAGPAT9) edge (bC10orf129)
        edge (bEIF5A2) edge (bALDH1B1) edge (bMANBA) edge (bTKTL1) edge (bADD3)
        edge (bSENP1) edge (bDNAJB14) edge (bMRPL1) edge (bCLDN6) edge (bSLC16A9)
        edge (bGDPD1) edge (bDNAJC10) edge (bSLC25A11) edge (bFAAH2) edge (bPDSS1);
    \draw[edge] (bACACB) edge (bDLD) edge (bEHHADH) edge (bENO3) edge (bBCKDHB)
        edge (bTXNRD3) edge (bABCC4) edge (bGK5) edge (bOGDHL) edge (bGRPEL2)
        edge (bPOLM) edge (bLTF) edge (bDNAJB14) edge (bMRPL1) edge (bMTIF2)
        edge (bADSSL1) edge (bERP27) edge (bBBS10) edge (bAKD1) edge (bPNPLA7)
        edge (bSLC44A1) edge (bMTIF3) edge (bGPCPD1) edge (bNMNAT3) edge (bGTPBP10)
        edge (bTARSL2) edge (bABCA3) edge (bSLC7A6) edge (bPPAT) edge (bOSBPL1A)
        edge (bCLDN6) edge (bPDSS1) edge (bBDH2) edge (bLPGAT1) edge (bCLCN4)
        edge (bSLC2A5) edge (bTKTL1) edge (bALDH1B1) edge (bDNAJC10);
    \draw[edge] (bDLD) edge (bEHHADH) edge (bENO3) edge (bBCKDHB) edge (bOGDHL)
        edge (bGK5) edge (bTXNRD3) edge (bABCC4) edge (bLPGAT1) edge (bBDH2)
        edge (bGDPD5) edge (bMTIF3) edge (bMTIF2) edge (bADSSL1) edge (bGPCPD1)
        edge (bNMNAT3) edge (bGTPBP10) edge (bTARSL2) edge (bSLC44A1) edge (bABCA3)
        edge (bPPAT) edge (bDNAJB14) edge (bMRPL1) edge (bSLC2A5) edge (bGDPD1);
    \draw[edge] (bEHHADH) edge (bBDH2) edge (bGDPD5) edge (bCLCN4) edge (bFAAH2)
        edge (bLPGAT1) edge (bABCC4) edge (bTXNRD3) edge (bGK5) edge (bOGDHL)
        edge (bALDH1B1) edge (bGDPD1) edge (bSLC16A9) edge (bBCKDHB) edge (bENO3);
    \draw[edge] (bPLK4) -- (bCHEK1) -- (bNDC80) -- (bWDHD1) -- (bCHEK1) -- (bNCAPH) -- (bPLK4) -- (bRAD51B);
    \draw[edge] (bKIF11) -- (bNDC80) -- (bCENPE) -- (bAURKC) -- (bPLK4) -- (bTOPBP1) -- (bRAD17) -- (bRAD51B);
    \draw[edge] (bMCM6) -- (bWDHD1) -- (bSTAG1) -- (bNIPBL) -- (bSMC6) -- (bRAD51B) -- (bRAD54L) -- (bMCM6);
    \draw[edge] (bMSH6) -- (bMSH3) -- (bWRN) -- (bBLM) -- (bMRE11A) -- (bATM) -- (bRAD17) -- (bTOPBP1) -- (bATM);
    \draw[edge] (bRECQL) -- (bWRN) -- (bRAD51B) -- (bBLM) -- (bRECQL) -- (bMRE11A) -- (bRAD51B);
    \draw[edge] (bPIK3CA) -- (bPIK3CD) -- (bPIK3CB) -- (bPIK3CA) -- (bESR1) -- (bPIK3CB) -- (bUBA6) -- (bUBA3) -- (bPIK3CB);
    \draw[edge] (bPIK3CA) -- (bRANBP2) -- (bSMARCAD1) -- (bKIF11) -- (bHDAC8) -- (bNIPBL) -- (bPIK3CA);
    \draw[edge] (bREV3L) -- (bPOLK) -- (bRRM2B) -- (bMETAP2) -- (bREV3L) -- (bDHX36) -- (bPDS5A) -- (bMSH6);
    \draw[edge] (bPIAS2) -- (bESR1) -- (bATM) -- (bPIAS2) -- (bRANBP2) (bDHX15) -- (bDHX36) -- (bNCAPH);
    \draw[edge] (bTRIT1) -- (bERCC4) -- (bRAD51B) (bERCC4) -- (bMSH3) (bTRIT1) -- (bMETAP2);
    \draw[edge] (bADD3) -- (bTKTL1) -- (bALDH1B1) -- (bMANBA) (bADD3) -- (bSENP1) (bADD3) -- (bEIF5A2);
    \draw[edge] (bBTAF1) -- (bCHD1) (bBTAF1) -- (bDHX15) (bEIF4A2) -- (bYTHDC2) -- (bTRNT1) -- (bEIF4A2) -- (bDHX15);
    \draw[edge] (bEIF4A2) -- (bNCAPH) (bNEK7) -- (bYTHDC2) -- (bDHX15) (bNEK7) -- (bCHEK1) (bSENP1) -- (bEIF4A2);
    \draw[edge] (bTRDMT1) -- (bPIF1) (bTRDMT1) -- (bNFYB) -- (bCHD6) -- (bDSCC1) (bTRDMT1) -- (bCENPE) (bCHD1) -- (bCHD6);
    \draw[edge] (bUBA3) -- (bNAE1) (bSLC12A2) -- (bCCDC88A) (bPPAT) -- (bOSBPL1A) -- (bMPP7) (bPPAT) -- (bMPP1);
    \draw[edge] (bNMNAT3) -- (bMTIF3) -- (bGPCPD1) (bGTPBP10) -- (bSLC44A1) -- (bBBS10) (bTARSL2) -- (bGTPBP10);
    \draw[edge] (bABCA3) -- (bSLC44A1) (bSLC7A6) -- (bMTIF3) (bABCA3) -- (bBBS10) (bSLC7A6) -- (bMPP7);
    \draw[edge] (bSLC2A5) -- (bSLC16A9) -- (bBDH2) (bGDPD1) -- (bBDH2) (bABCA5) -- (bGDPD5) (bSLC25A11) -- (bENO3);
    \draw[edge] (bBDH2) -- (bTXNRD3) (bBDH2) -- (bGK5) (bBDH2) -- (bOGDHL) (bGDPD5) -- (bTXNRD3) (bCLCN4) -- (bXPO1);
    \draw[edge] (bFAAH2) -- (bENO3) (bCLDN6) -- (bDNAJB14) (bPDSS1) -- (bHSPA12A) (bLPGAT1) -- (bBCKDHB);
    \end{pgfonlayer}
\end{tikzpicture}
\end{document}
